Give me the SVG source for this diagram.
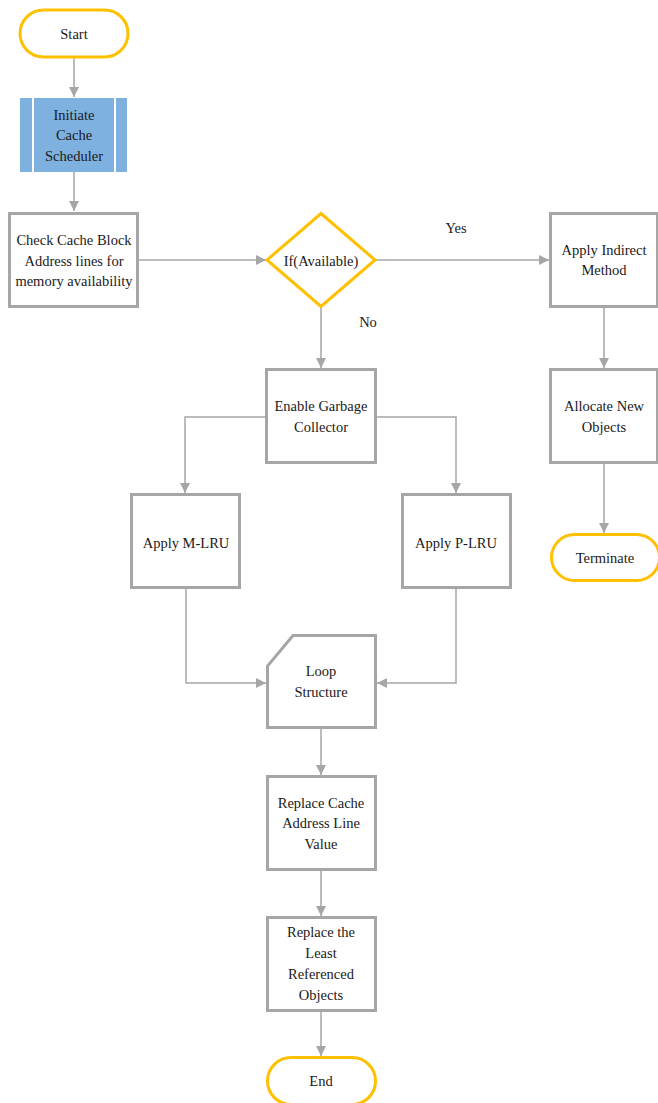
<svg xmlns="http://www.w3.org/2000/svg" width="658" height="1103" viewBox="0 0 658 1103">
<defs>
<marker id="ah" viewBox="0 0 10 10" refX="10" refY="5" markerWidth="10" markerHeight="10" markerUnits="userSpaceOnUse" orient="auto">
<path d="M0,0 L10,5 L0,10 z" fill="#A6A6A6"/>
</marker>
</defs>
<g id="connectors" fill="none" stroke="#A6A6A6" stroke-width="1.5">
<path d="M74,58 V97" marker-end="url(#ah)"/>
<path d="M74,172 V211" marker-end="url(#ah)"/>
<path d="M139,260 H266" marker-end="url(#ah)"/>
<path d="M375,260 H549" marker-end="url(#ah)"/>
<path d="M321,307 V368" marker-end="url(#ah)"/>
<path d="M604,308 V368" marker-end="url(#ah)"/>
<path d="M604,464 V533" marker-end="url(#ah)"/>
<path d="M266,417 H185 V493" marker-end="url(#ah)"/>
<path d="M376,417 H456 V493" marker-end="url(#ah)"/>
<path d="M186,589 V683 H266" marker-end="url(#ah)"/>
<path d="M456,589 V683 H377" marker-end="url(#ah)"/>
<path d="M321,729 V775" marker-end="url(#ah)"/>
<path d="M321,871 V916" marker-end="url(#ah)"/>
<path d="M321,1012 V1056" marker-end="url(#ah)"/>
</g>
<g id="labels">
<text x="456" y="233" font-family="'Liberation Serif', serif" font-size="14.5" fill="#1a1a1a" text-anchor="middle">Yes</text>
<text x="368" y="327" font-family="'Liberation Serif', serif" font-size="14.5" fill="#1a1a1a" text-anchor="middle">No</text>
</g>
<g id="start">
<rect x="20" y="10" width="108" height="47" rx="23.5" fill="#fff" stroke="#FFC000" stroke-width="3"/>
<text x="74" y="39" font-family="'Liberation Serif', serif" font-size="14.5" fill="#1a1a1a" text-anchor="middle">Start</text>
</g>
<g id="initiate">
<rect x="20" y="98" width="107" height="74" fill="#7EB1DF"/>
<line x1="33" y1="98" x2="33" y2="172" stroke="#fff" stroke-width="2"/>
<line x1="115" y1="98" x2="115" y2="172" stroke="#fff" stroke-width="2"/>
<text x="74" y="120" font-family="'Liberation Serif', serif" font-size="14.5" fill="#1a1a1a" text-anchor="middle">Initiate</text>
<text x="74" y="140" font-family="'Liberation Serif', serif" font-size="14.5" fill="#1a1a1a" text-anchor="middle">Cache</text>
<text x="74" y="161" font-family="'Liberation Serif', serif" font-size="14.5" fill="#1a1a1a" text-anchor="middle">Scheduler</text>
</g>
<g id="check">
<rect x="9.5" y="213.5" width="128" height="93" fill="#fff" stroke="#A6A6A6" stroke-width="3"/>
<text x="74" y="245" font-family="'Liberation Serif', serif" font-size="14.5" fill="#1a1a1a" text-anchor="middle">Check Cache Block</text>
<text x="74" y="266" font-family="'Liberation Serif', serif" font-size="14.5" fill="#1a1a1a" text-anchor="middle">Address lines for</text>
<text x="74" y="286" font-family="'Liberation Serif', serif" font-size="14.5" fill="#1a1a1a" text-anchor="middle">memory availability</text>
</g>
<g id="decision">
<polygon points="321,213.5 375,260 321,306.5 267,260" fill="#fff" stroke="#FFC000" stroke-width="3"/>
<text x="321" y="266" font-family="'Liberation Serif', serif" font-size="14.5" fill="#1a1a1a" text-anchor="middle">If(Available)</text>
</g>
<g id="indirect">
<rect x="550.5" y="213.5" width="107" height="93" fill="#fff" stroke="#A6A6A6" stroke-width="3"/>
<text x="604" y="255" font-family="'Liberation Serif', serif" font-size="14.5" fill="#1a1a1a" text-anchor="middle">Apply Indirect</text>
<text x="604" y="275" font-family="'Liberation Serif', serif" font-size="14.5" fill="#1a1a1a" text-anchor="middle">Method</text>
</g>
<g id="allocate">
<rect x="550.5" y="369.5" width="107" height="93" fill="#fff" stroke="#A6A6A6" stroke-width="3"/>
<text x="604" y="411" font-family="'Liberation Serif', serif" font-size="14.5" fill="#1a1a1a" text-anchor="middle">Allocate New</text>
<text x="604" y="432" font-family="'Liberation Serif', serif" font-size="14.5" fill="#1a1a1a" text-anchor="middle">Objects</text>
</g>
<g id="terminate">
<rect x="551.5" y="534.5" width="108" height="46" rx="23" fill="#fff" stroke="#FFC000" stroke-width="3"/>
<text x="605" y="563" font-family="'Liberation Serif', serif" font-size="14.5" fill="#1a1a1a" text-anchor="middle">Terminate</text>
</g>
<g id="garbage">
<rect x="266.5" y="369.5" width="109" height="93" fill="#fff" stroke="#A6A6A6" stroke-width="3"/>
<text x="321" y="411" font-family="'Liberation Serif', serif" font-size="14.5" fill="#1a1a1a" text-anchor="middle">Enable Garbage</text>
<text x="321" y="432" font-family="'Liberation Serif', serif" font-size="14.5" fill="#1a1a1a" text-anchor="middle">Collector</text>
</g>
<g id="mlru">
<rect x="131.5" y="494.5" width="108" height="93" fill="#fff" stroke="#A6A6A6" stroke-width="3"/>
<text x="186" y="548" font-family="'Liberation Serif', serif" font-size="14.5" fill="#1a1a1a" text-anchor="middle">Apply M-LRU</text>
</g>
<g id="plru">
<rect x="402.5" y="494.5" width="108" height="93" fill="#fff" stroke="#A6A6A6" stroke-width="3"/>
<text x="456" y="548" font-family="'Liberation Serif', serif" font-size="14.5" fill="#1a1a1a" text-anchor="middle">Apply P-LRU</text>
</g>
<g id="loop">
<path d="M293,635.5 H375.5 V727.5 H267.5 V666 Z" fill="#fff" stroke="#A6A6A6" stroke-width="3"/>
<text x="321" y="676" font-family="'Liberation Serif', serif" font-size="14.5" fill="#1a1a1a" text-anchor="middle">Loop</text>
<text x="321" y="697" font-family="'Liberation Serif', serif" font-size="14.5" fill="#1a1a1a" text-anchor="middle">Structure</text>
</g>
<g id="replace-cache">
<rect x="267.5" y="776.5" width="108" height="93" fill="#fff" stroke="#A6A6A6" stroke-width="3"/>
<text x="321" y="808" font-family="'Liberation Serif', serif" font-size="14.5" fill="#1a1a1a" text-anchor="middle">Replace Cache</text>
<text x="321" y="828" font-family="'Liberation Serif', serif" font-size="14.5" fill="#1a1a1a" text-anchor="middle">Address Line</text>
<text x="321" y="849" font-family="'Liberation Serif', serif" font-size="14.5" fill="#1a1a1a" text-anchor="middle">Value</text>
</g>
<g id="replace-least">
<rect x="267.5" y="917.5" width="108" height="93" fill="#fff" stroke="#A6A6A6" stroke-width="3"/>
<text x="321" y="937" font-family="'Liberation Serif', serif" font-size="14.5" fill="#1a1a1a" text-anchor="middle">Replace the</text>
<text x="321" y="958" font-family="'Liberation Serif', serif" font-size="14.5" fill="#1a1a1a" text-anchor="middle">Least</text>
<text x="321" y="979" font-family="'Liberation Serif', serif" font-size="14.5" fill="#1a1a1a" text-anchor="middle">Referenced</text>
<text x="321" y="1000" font-family="'Liberation Serif', serif" font-size="14.5" fill="#1a1a1a" text-anchor="middle">Objects</text>
</g>
<g id="end">
<rect x="267.5" y="1057.5" width="108" height="47" rx="23.5" fill="#fff" stroke="#FFC000" stroke-width="3"/>
<text x="321" y="1086" font-family="'Liberation Serif', serif" font-size="14.5" fill="#1a1a1a" text-anchor="middle">End</text>
</g>
</svg>
